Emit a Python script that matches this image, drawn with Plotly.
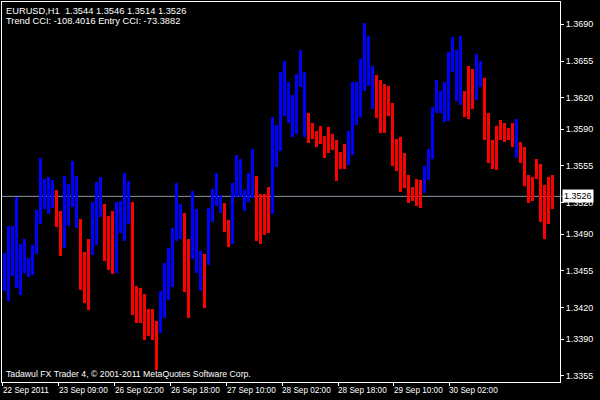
import plotly.graph_objects as go

# Price data in points (1 point = 0.0001)
highs_pts = [13472,13498,13498,13525,13481,13485,13467,13480,13513,13563,
             13543,13544,13542,13532,13512,13545,13538,13560,13545,13504,
             13473,13485,13521,13540,13544,13519,13507,13512,13521,13522,
             13548,13541,13521,13441,13439,13433,13419,13419,13407,13436,
             13462,13477,13496,13539,13519,13510,13485,13531,13514,13474,
             13471,13515,13533,13548,13527,13520,13503,13539,13565,13562,
             13532,13548,13571,13545,13528,13528,13535,13602,13594,13645,
             13655,13635,13623,13643,13666,13645,13605,13596,13588,13593,
             13584,13592,13585,13580,13568,13576,13588,13635,13635,13657,
             13691,13679,13650,13642,13637,13633,13631,13615,13581,13583,
             13567,13546,13535,13543,13542,13555,13571,13611,13637,13626,
             13635,13664,13678,13666,13679,13626,13650,13647,13662,13655,
             13639,13605,13580,13593,13599,13596,13591,13596,13600,13578,
             13573,13546,13544,13562,13557,13537,13544,13546]
lows_pts = [13436,13426,13450,13439,13432,13453,13449,13451,13471,13500,
            13514,13509,13515,13497,13469,13477,13498,13516,13496,13437,
            13424,13418,13470,13480,13506,13464,13456,13452,13453,13491,
            13483,13500,13413,13405,13405,13389,13393,13389,13360,13396,
            13410,13427,13440,13483,13485,13435,13410,13466,13453,13436,
            13420,13461,13502,13517,13510,13492,13478,13481,13525,13525,
            13512,13521,13524,13483,13481,13489,13491,13509,13554,13569,
            13603,13596,13583,13585,13630,13583,13577,13581,13573,13576,
            13563,13567,13570,13541,13552,13552,13556,13565,13594,13602,
            13626,13631,13609,13601,13586,13586,13603,13555,13550,13530,
            13534,13520,13522,13517,13515,13529,13542,13562,13605,13605,
            13597,13598,13645,13617,13613,13602,13600,13609,13618,13630,
            13580,13558,13552,13551,13580,13578,13580,13573,13563,13558,
            13536,13520,13522,13543,13502,13485,13500,13514]
# trend colour per bar: B = blue (up), R = red (down)
trend = ("BBBBBBBBBBBBB" "RR" "BBBB" "RRR" "BBB" "RRR" "BBBB" "RRRRRRR"
         "BBBBBB" "RR" "BBB" "R" "BBBB" "RR" "BBBBBB" "RRRR" "BBBBBBBBB"
         "RRRRRRRRRR" "BBBBBBB" "RRRRRRRRRRRR" "BBBBBBBBBB" "RRR" "BB"
         "RRRRRRRR" "B" "RRRRRRRRR")

y_tick_vals = [1.3690, 1.3655, 1.3620, 1.3590, 1.3555, 1.3520, 1.3490,
               1.3455, 1.3420, 1.3390, 1.3355]
x_tick_pos = [-0.4, 13.6, 27.5, 41.5, 55.5, 69.4, 83.4, 97.3, 111.2]
x_tick_labels = ["22 Sep 2011", "23 Sep 09:00", "26 Sep 02:00", "26 Sep 18:00",
                 "27 Sep 10:00", "28 Sep 02:00", "28 Sep 18:00", "29 Sep 10:00",
                 "30 Sep 02:00"]
last_price = 1.3526
header1 = "EURUSD,H1  1.3544 1.3546 1.3514 1.3526"
header2 = "Trend CCI: -108.4016 Entry CCI: -73.3882"
footer = "Tadawul FX Trader 4, \u00a9 2001-2011 MetaQuotes Software Corp."

highs = [h / 10000 for h in highs_pts]
lows = [l / 10000 for l in lows_pts]
n = len(highs)
xs = list(range(n))
colors = ["#0000FF" if c == "B" else "#FF0000" for c in trend]

FONT = "Liberation Sans"

fig = go.Figure()
fig.add_trace(go.Bar(
    x=xs, y=[h - l for h, l in zip(highs, lows)], base=lows,
    width=0.75, marker=dict(color=colors, line=dict(width=0)),
    hoverinfo="skip", showlegend=False,
))

fig.add_shape(type="line", xref="paper", yref="y", x0=0, x1=1.005,
              y0=last_price, y1=last_price,
              line=dict(color="#8C96A4", width=1), layer="below")

annotations = []
for pos, lab in zip(x_tick_pos, x_tick_labels):
    annotations.append(dict(x=pos, y=0, xref="x", yref="paper", text=lab,
                            showarrow=False, xanchor="left", yanchor="top",
                            xshift=-2, yshift=-2,
                            font=dict(family=FONT, size=8.2, color="white")))
annotations.append(dict(x=0, y=1, xref="paper", yref="paper", text=header1,
                        showarrow=False, xanchor="left", yanchor="top",
                        xshift=2, yshift=-2,
                        font=dict(family=FONT, size=9.3, color="white")))
annotations.append(dict(x=0, y=1, xref="paper", yref="paper", text=header2,
                        showarrow=False, xanchor="left", yanchor="top",
                        xshift=2, yshift=-12,
                        font=dict(family=FONT, size=9.3, color="white")))
annotations.append(dict(x=0, y=0, xref="paper", yref="paper", text=footer,
                        showarrow=False, xanchor="left", yanchor="bottom",
                        xshift=2, yshift=1,
                        font=dict(family=FONT, size=8.7, color="white")))
annotations.append(dict(x=1, y=last_price, xref="paper", yref="y",
                        text=f"{last_price:.4f}", showarrow=False,
                        xanchor="left", yanchor="middle", xshift=2,
                        bgcolor="white", borderpad=1,
                        font=dict(family=FONT, size=9, color="black")))

fig.update_layout(
    width=600, height=400,
    margin=dict(l=2, r=40, t=2, b=18, autoexpand=False),
    paper_bgcolor="black", plot_bgcolor="black",
    bargap=0,
    annotations=annotations,
    xaxis=dict(range=[-0.625, 138.875], showgrid=False, zeroline=False,
               showline=True, linecolor="white", linewidth=1, mirror=True,
               tickmode="array", tickvals=x_tick_pos, ticks="outside",
               ticklen=3, tickcolor="white", showticklabels=False),
    yaxis=dict(range=[1.33490, 1.37113], side="right", showgrid=False,
               zeroline=False, showline=True, linecolor="white", linewidth=1,
               mirror=True, tickmode="array", tickvals=y_tick_vals,
               ticktext=[f"{v:.4f}" for v in y_tick_vals],
               ticks="outside", ticklen=3, tickcolor="white",
               tickfont=dict(family=FONT, size=9, color="white")),
)

fig.write_html("out.html", config={"displayModeBar": False},
               post_script="document.body.style.margin='0px';"
                           "document.body.style.padding='0px';"
                           "document.body.style.background='black';")
